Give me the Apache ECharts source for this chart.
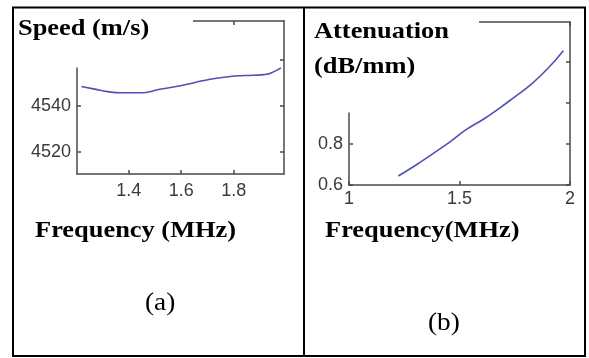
<!DOCTYPE html>
<html>
<head>
<meta charset="utf-8">
<script src="https://cdn.jsdelivr.net/npm/echarts@6/dist/echarts.min.js"></script>
<style>
html,body{margin:0;padding:0;background:#fff;}
#c{width:589px;height:358px;}
</style>
</head>
<body>
<div id="c"></div>
<script>
// Panel (a): speed vs frequency
const speedFreq = [1.22, 1.27, 1.32, 1.37, 1.45, 1.51, 1.57, 1.65, 1.71, 1.78, 1.84, 1.915, 1.94, 1.98];
const speedVals = [4548.4, 4547.3, 4546.2, 4545.7, 4545.7, 4547.0, 4548.2, 4550.1, 4551.6, 4552.7, 4553.2, 4553.6, 4554.2, 4556.5];
const speedYTicks = [4520, 4540, 4560];
const speedXTicks = [1.4, 1.6, 1.8];

// Panel (b): attenuation vs frequency
const attFreq = [1.223, 1.30, 1.38, 1.46, 1.53, 1.61, 1.68, 1.75, 1.82, 1.895, 1.97];
const attVals = [0.644, 0.695, 0.753, 0.813, 0.870, 0.922, 0.974, 1.030, 1.087, 1.163, 1.255];
const attYTicks = [0.6, 0.8, 1.0, 1.2];
const attXTicks = [1, 1.5, 2];

const spine = '#4a4a4a';
const labelColor = '#3a3a3a';
const lineColor = '#5050b5';

function mkAxis(grid, min, max, ticks, pos, showLabel, margin) {
  return {
    type: 'value', gridIndex: grid, min: min, max: max, position: pos,
    axisLine: {show: true, onZero: false, lineStyle: {color: spine, width: 1.5}},
    axisTick: {show: true, inside: true, length: 4, customValues: ticks, lineStyle: {color: spine, width: 1.5}},
    axisLabel: {show: showLabel, customValues: ticks, margin: margin, color: labelColor,
      fontSize: 18, fontFamily: '"Liberation Sans", Arial, sans-serif',
      formatter: function (v) { return String(v); }},
    splitLine: {show: false}
  };
}

const serif = '"Liberation Serif", "Times New Roman", serif';
function txt(t, x, y, size, weight, sx) {
  return {type: 'text', x: x, y: y, scaleX: sx, z: 200,
    style: {text: t, fontSize: size, fontWeight: weight, fontFamily: serif, fill: '#000',
      textAlign: 'left', textVerticalAlign: 'middle'}};
}
function ln(x1, y1, x2, y2) {
  return {type: 'line', z: 150, shape: {x1: x1, y1: y1, x2: x2, y2: y2},
    style: {stroke: '#000', lineWidth: 2}};
}

const chart = echarts.init(document.getElementById('c'), null, {renderer: 'canvas'});
chart.setOption({
  backgroundColor: '#fff',
  animation: false,
  grid: [
    {left: 77, top: 21, width: 207, height: 153},
    {left: 349, top: 22, width: 221, height: 163}
  ],
  xAxis: [
    mkAxis(0, 1.203, 1.9916, speedXTicks, 'bottom', true, 8),
    mkAxis(0, 1.203, 1.9916, speedXTicks, 'top', false, 8),
    mkAxis(1, 1, 2, attXTicks, 'bottom', true, 5),
    mkAxis(1, 1, 2, attXTicks, 'top', false, 5)
  ],
  yAxis: [
    mkAxis(0, 4510.4, 4576.9, speedYTicks, 'left', true, 6),
    mkAxis(0, 4510.4, 4576.9, speedYTicks, 'right', false, 6),
    mkAxis(1, 0.6, 1.395, attYTicks, 'left', true, 6),
    mkAxis(1, 0.6, 1.395, attYTicks, 'right', false, 6)
  ],
  series: [
    {type: 'line', xAxisIndex: 0, yAxisIndex: 0, showSymbol: false, smooth: 0.5,
      lineStyle: {color: lineColor, width: 1.6},
      data: speedFreq.map((f, i) => [f, speedVals[i]])},
    {type: 'line', xAxisIndex: 2, yAxisIndex: 2, showSymbol: false, smooth: 0.5,
      lineStyle: {color: lineColor, width: 1.6},
      data: attFreq.map((f, i) => [f, attVals[i]])}
  ],
  graphic: [
    {type: 'rect', z: 100, shape: {x: 15, y: 10, width: 178, height: 57.5}, style: {fill: '#fff'}},
    {type: 'rect', z: 100, shape: {x: 306, y: 10, width: 173, height: 102.5}, style: {fill: '#fff'}},
    ln(12, 7.5, 586, 7.5),
    ln(13, 7, 13, 357),
    ln(585, 7, 585, 357),
    ln(12, 356, 586, 356),
    ln(304, 7, 304, 357),
    txt('Speed (m/s)', 18, 29, 24, 'bold', 1.1),
    txt('Attenuation', 314, 32, 24, 'bold', 1.1),
    txt('(dB/mm)', 314, 67, 24, 'bold', 1.1),
    txt('Frequency (MHz)', 35, 231, 24, 'bold', 1.1),
    txt('Frequency(MHz)', 325, 231, 24, 'bold', 1.1),
    txt('(a)', 145, 303, 26, 'normal', 1.05),
    txt('(b)', 428, 323, 26, 'normal', 1.05)
  ]
});
</script>
</body>
</html>
